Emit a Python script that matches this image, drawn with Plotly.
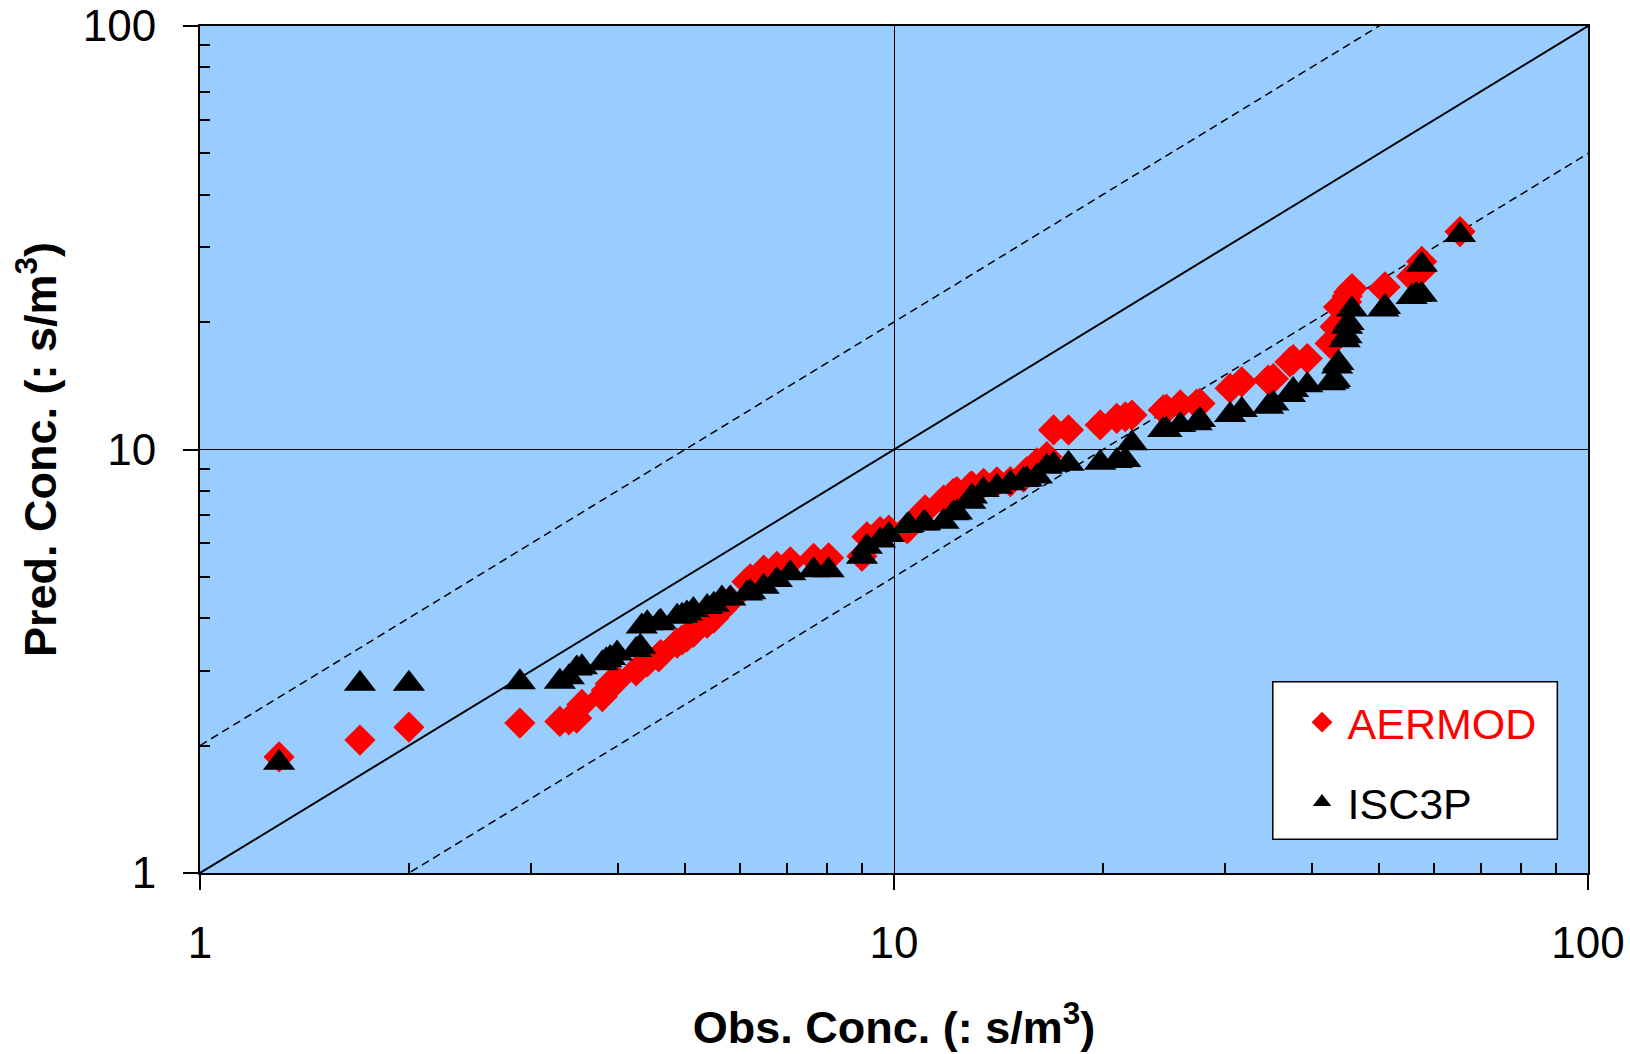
import plotly.graph_objects as go

obs = [1.30, 1.70, 2.00, 2.89, 3.30, 3.40, 3.49, 3.55, 3.80, 3.85, 3.90, 3.99, 4.25, 4.31, 4.33, 4.41,
       4.58, 4.61, 4.87, 4.95, 5.03, 5.14, 5.38, 5.50, 5.65, 5.81, 6.14, 6.21, 6.49, 6.78, 7.09, 7.66,
       8.05, 8.99, 9.14, 9.55, 9.83, 10.44, 10.50, 11.03, 11.09, 11.79, 12.18, 12.32, 12.88, 12.95,
       13.46, 14.07, 14.71, 15.37, 15.54, 16.07, 16.60, 16.98, 17.84, 19.82, 20.94, 21.54, 22.02,
       24.43, 24.70, 25.85, 27.30, 27.60, 30.50, 31.70, 34.60, 35.20, 37.20, 37.60, 39.40, 42.50,
       43.00, 43.20, 43.50, 43.70, 44.60, 44.90, 44.97, 45.20, 45.70, 50.70, 51.00, 55.70, 56.60,
       57.60, 57.60, 65.40]

aermod = [1.88, 2.06, 2.21, 2.26, 2.28, 2.30, 2.32, 2.50, 2.61, 2.70, 2.80, 2.85, 3.00, 3.07, 3.10, 3.15,
          3.24, 3.28, 3.49, 3.55, 3.61, 3.70, 3.89, 4.00, 4.20, 4.40, 4.87, 4.95, 5.19, 5.30, 5.43, 5.53,
          5.55, 5.60, 6.22, 6.40, 6.45, 6.50, 6.55, 7.13, 7.20, 7.60, 7.88, 7.95, 8.17, 8.20,
          8.32, 8.39, 8.40, 8.60, 8.87, 9.30, 9.62, 11.12, 11.12, 11.43, 11.85, 11.95, 12.06,
          12.40, 12.45, 12.74, 12.80, 12.85, 13.95, 14.45, 14.59, 14.70, 16.10, 16.30, 16.40, 17.80,
          18.10, 19.50, 19.50, 21.70, 22.30, 22.30, 23.00, 23.50, 24.00, 24.00, 24.20, 25.60, 25.80,
          26.50, 27.80, 32.70]

isc3p = [1.82, 2.80, 2.80, 2.82, 2.83, 2.90, 3.04, 3.06, 3.13, 3.18, 3.22, 3.30, 3.36, 3.42, 3.82, 3.89,
         3.89, 3.92, 4.03, 4.05, 4.10, 4.18, 4.25, 4.30, 4.45, 4.45, 4.57, 4.60, 4.74, 4.92, 5.10, 5.19,
         5.19, 5.58, 5.89, 6.10, 6.28, 6.60, 6.63, 6.69, 6.70, 6.75, 7.07, 7.10, 7.53, 7.74,
         8.02, 8.17, 8.32, 8.47, 8.50, 8.63, 9.10, 9.20, 9.25, 9.30, 9.40, 9.45, 10.34,
         11.12, 11.12, 11.43, 11.53, 11.74, 12.06, 12.40, 12.62, 12.85, 13.45, 13.82, 14.19, 14.33,
         14.45, 14.60, 15.70, 16.00, 18.10, 18.50, 19.50, 19.90, 21.40, 21.40, 21.70, 22.90, 23.20,
         23.20, 27.30, 32.10]

ref_x = [1, 100]
factor_lines = [1.0, 2.0, 0.5]

tick_vals = [1, 10, 100]
tick_text = ["1", "10", "100"]
minor_vals = [2, 3, 4, 5, 6, 7, 8, 9, 20, 30, 40, 50, 60, 70, 80, 90]

FONT = "Liberation Sans, Arial, sans-serif"

fig = go.Figure()

for f in factor_lines:
    fig.add_trace(go.Scatter(
        x=ref_x, y=[v * f for v in ref_x], mode="lines",
        line=dict(color="black", width=2 if f == 1.0 else 1.5,
                  dash="solid" if f == 1.0 else "8px,5px"),
        showlegend=False, hoverinfo="skip", cliponaxis=True))

fig.add_trace(go.Scatter(
    x=obs, y=aermod, mode="markers", name="<span style='color:#FF0000'>AERMOD</span>",
    marker=dict(symbol="diamond", size=24, color="#FF0000", line=dict(width=0)),
    legendgroup="a"))
fig.add_trace(go.Scatter(
    x=obs, y=isc3p, mode="markers", name="ISC3P",
    marker=dict(symbol="triangle-up", size=28, color="black", line=dict(width=0)),
    legendgroup="b"))

axis_common = dict(
    type="log", range=[0, 2], tickmode="array", tickvals=tick_vals, ticktext=tick_text,
    ticks="outside", ticklen=15, tickwidth=1.5, tickcolor="black",
    showgrid=True, gridcolor="black", gridwidth=1,
    showline=True, linecolor="black", linewidth=2, mirror=True,
    zeroline=False, automargin=False,
    tickfont=dict(family=FONT, size=44, color="black"),
    minor=dict(tickmode="array", tickvals=minor_vals, ticks="inside", ticklen=10,
               tickwidth=1.5, tickcolor="black", showgrid=False),
)

fig.update_layout(
    width=1630, height=1054,
    margin=dict(l=200, r=42, t=26, b=181),
    paper_bgcolor="white", plot_bgcolor="#99CCFF",
    xaxis=dict(axis_common, ticklabelstandoff=15,
               title=dict(text="<b>Obs. Conc. (: s/m<sup>3</sup>)</b>",
                          font=dict(family=FONT, size=45, color="black"), standoff=46)),
    yaxis=dict(axis_common, ticklabelstandoff=18,
               title=dict(text="<b>Pred. Conc. (: s/m<sup>3</sup>)</b>",
                          font=dict(family=FONT, size=45, color="black"), standoff=12)),
    legend=dict(x=0.790, y=0.2188, xanchor="left", yanchor="top",
                bgcolor="rgba(0,0,0,0)", borderwidth=0,
                font=dict(family=FONT, size=43, color="black"),
                traceorder="grouped", tracegroupgap=21, itemwidth=41),
    shapes=[dict(type="rect", xref="paper", yref="paper",
                 x0=0.7729, x1=0.9779, y0=0.0398, y1=0.2259,
                 fillcolor="white", line=dict(color="black", width=1.5), layer="above")],
    showlegend=True,
)

fig.write_html("out.html")
